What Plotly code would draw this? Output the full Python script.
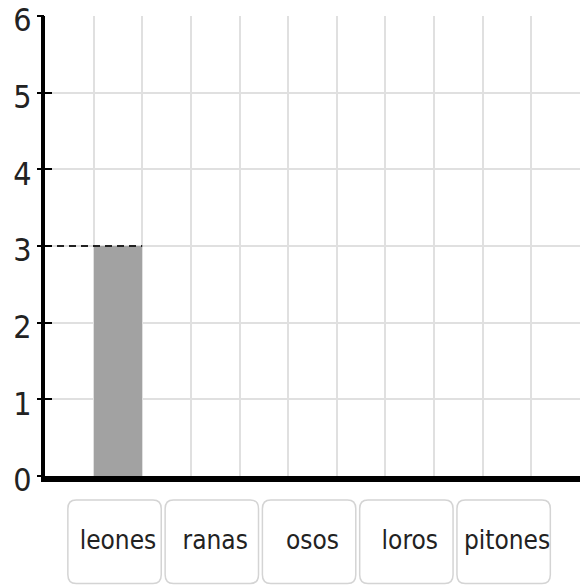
import plotly.graph_objects as go

categories = ["leones", "ranas", "osos", "loros", "pitones"]
values = [3, 0, 0, 0, 0]
y_ticks = [0, 1, 2, 3, 4, 5, 6]

# category positions on a numeric axis of 11 grid columns
positions = [1.5 + 2 * i for i in range(len(categories))]

FONT = "DejaVu Sans Condensed, Roboto, Liberation Sans, sans-serif"

fig = go.Figure()
fig.add_trace(go.Bar(
    x=positions, y=values, width=1.0,
    marker=dict(color="#a2a2a2", line=dict(width=0)),
    hoverinfo="skip", showlegend=False,
))
# dashed guide lines from the y axis to the top of each non-zero bar
for p, v in zip(positions, values):
    if v > 0:
        fig.add_trace(go.Scatter(
            x=[0, p + 0.5], y=[v, v], mode="lines",
            line=dict(color="#222222", width=2, dash="7px,5px"),
            hoverinfo="skip", showlegend=False, cliponaxis=False,
        ))
# invisible helpers so the tick-only overlay axes are drawn
for ax in ("y2", "y3"):
    fig.add_trace(go.Scatter(x=[0], y=[0], yaxis=ax, mode="markers",
                             marker=dict(opacity=0), showlegend=False, hoverinfo="skip"))

# rounded label boxes under the categories
shapes = []
r_x, r_y = 0.17, 0.019
y0, y1 = -0.052, -0.2335
for p in positions:
    cx = p - 0.07
    x0, x1 = cx - 0.96, cx + 0.96
    path = (f"M {x0 + r_x},{y0} L {x1 - r_x},{y0} Q {x1},{y0} {x1},{y0 - r_y} "
            f"L {x1},{y1 + r_y} Q {x1},{y1} {x1 - r_x},{y1} "
            f"L {x0 + r_x},{y1} Q {x0},{y1} {x0},{y1 + r_y} "
            f"L {x0},{y0 - r_y} Q {x0},{y0} {x0 + r_x},{y0} Z")
    shapes.append(dict(type="path", path=path, xref="x", yref="paper",
                       line=dict(color="#d4d4d4", width=1.5), fillcolor="white",
                       layer="below"))

tick_axis = dict(overlaying="y", side="left", range=[0, 6], tickmode="array",
                 tickvals=y_ticks, ticklen=7, tickwidth=2, tickcolor="black",
                 automargin=False, showticklabels=False, showgrid=False,
                 zeroline=False, showline=False, fixedrange=True)

fig.update_layout(
    width=580, height=587,
    margin=dict(l=45, r=0, t=16, b=111, autoexpand=False),
    paper_bgcolor="white", plot_bgcolor="white",
    font=dict(family=FONT, color="#222222"),
    shapes=shapes,
    bargap=0,
    xaxis=dict(
        range=[0, 11], tickmode="array", tickvals=positions, ticktext=categories,
        tickfont=dict(family=FONT, size=26, color="#222222"),
        ticks="", showgrid=False, zeroline=False, automargin=False,
        showline=True, linecolor="black", linewidth=6,
        ticklabelstandoff=36,
        minor=dict(tick0=0, dtick=1, showgrid=True, gridcolor="#e0e0e0", gridwidth=2, ticks=""),
        fixedrange=True,
    ),
    yaxis=dict(
        range=[0, 6], tickmode="array", tickvals=y_ticks,
        tickfont=dict(family=FONT, size=32, color="#222222"),
        ticks="", ticklabeloverflow="allow", ticklabelshift=4,
        showgrid=True, gridcolor="#e0e0e0", gridwidth=2, zeroline=False, automargin=False,
        showline=True, linecolor="black", linewidth=4,
        ticklabelstandoff=3,
        fixedrange=True,
    ),
    yaxis2=dict(tick_axis, ticks="inside"),
    yaxis3=dict(tick_axis, ticks="outside"),
)

fig.write_html("out.html", config={"displayModeBar": False},
               post_script="document.body.style.margin='0';")
